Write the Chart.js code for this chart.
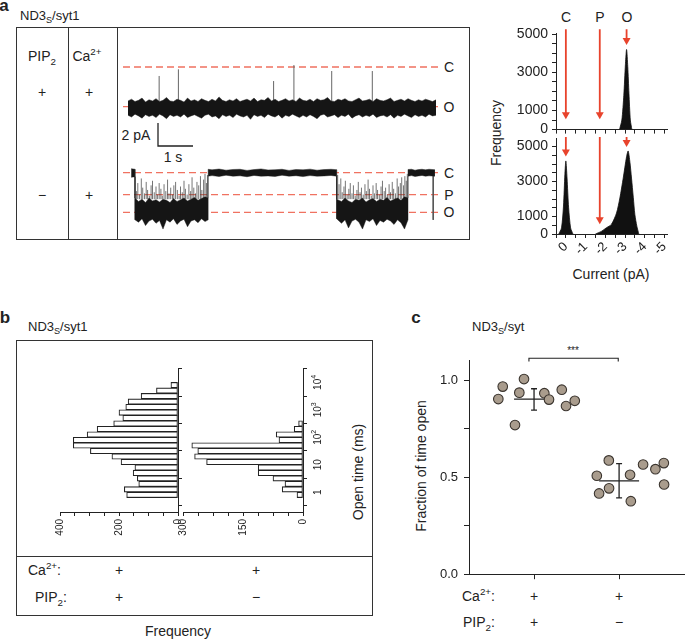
<!DOCTYPE html>
<html>
<head>
<meta charset="utf-8">
<script src="https://cdn.jsdelivr.net/npm/chart.js@4"></script>
<style>
  body { margin: 0; background: #fff; }
  #fig { position: relative; width: 685px; height: 639px; overflow: hidden;
         font-family: "Liberation Sans", Arial, sans-serif; color: #222; }
  canvas { position: absolute; }
  .t { position: absolute; white-space: nowrap; font-size: 14px; line-height: 1; transform: translate(-50%, -50%); }
  .l { transform: translate(0, -50%); }
  .rot { transform: translate(-50%, -50%) rotate(-90deg); }
  .pl { font-weight: bold; font-size: 17px; }
  .box { position: absolute; border: 1.3px solid #333; box-sizing: border-box; }
  .vl { position: absolute; width: 0; border-left: 1.3px solid #333; }
  .hl { position: absolute; height: 0; border-top: 1.3px solid #333; }
  sub, sup { font-size: 70%; line-height: 0; }
</style>
</head>
<body>
<div id="fig">
  <!-- panel a -->
  <div class="t pl" style="left:4px;top:5px">a</div>
  <div class="t l" style="left:20px;top:15px;font-size:13px">ND3<sub>S</sub>/syt1</div>
  <div class="box" style="left:16px;top:27px;width:454px;height:213px"></div>
  <div class="vl" style="left:68px;top:27px;height:213px"></div>
  <div class="vl" style="left:117px;top:27px;height:213px"></div>
  <div class="t" style="left:42px;top:56px">PIP<sub>2</sub></div>
  <div class="t" style="left:87px;top:56px">Ca<sup>2+</sup></div>
  <div class="t" style="left:42px;top:92px">+</div>
  <div class="t" style="left:89px;top:92px">+</div>
  <div class="t" style="left:42px;top:195px">−</div>
  <div class="t" style="left:89px;top:195px">+</div>
  <div class="t" style="left:449px;top:67px">C</div>
  <div class="t" style="left:449px;top:107px">O</div>
  <div class="t" style="left:449px;top:173px">C</div>
  <div class="t" style="left:449px;top:195px">P</div>
  <div class="t" style="left:449px;top:212px">O</div>
  <div class="t" style="left:136px;top:135px">2 pA</div>
  <div class="t" style="left:173px;top:157px">1 s</div>
  <div class="t" style="left:566px;top:17px">C</div>
  <div class="t" style="left:600px;top:17px">P</div>
  <div class="t" style="left:627px;top:17px">O</div>
  <div class="t rot" style="left:496px;top:133px">Frequency</div>
  <div class="t" style="left:611px;top:274px">Current (pA)</div>
  <canvas id="traces" width="317" height="173" style="left:123px;top:60px"></canvas>
  <canvas id="histTop" width="179" height="122" style="left:500px;top:20px"></canvas>
  <canvas id="histBottom" width="179" height="142" style="left:500px;top:126px"></canvas>

  <!-- panel b -->
  <div class="t pl" style="left:5px;top:317px">b</div>
  <div class="t l" style="left:28px;top:326px;font-size:13px">ND3<sub>S</sub>/syt1</div>
  <div class="box" style="left:16px;top:340px;width:357px;height:276px"></div>
  <div class="hl" style="left:16px;top:556px;width:357px"></div>
  <div class="t l" style="left:28px;top:570px">Ca<sup>2+</sup>:</div>
  <div class="t" style="left:119px;top:570px">+</div>
  <div class="t" style="left:256px;top:570px">+</div>
  <div class="t l" style="left:35px;top:597px">PIP<sub>2</sub>:</div>
  <div class="t" style="left:119px;top:597px">+</div>
  <div class="t" style="left:256px;top:597px">−</div>
  <div class="t" style="left:178px;top:631px">Frequency</div>
  <div class="t rot" style="left:358px;top:472px">Open time (ms)</div>
  <canvas id="dwellPlus" width="143" height="184" style="left:50px;top:358px"></canvas>
  <canvas id="dwellMinus" width="160" height="184" style="left:173px;top:358px"></canvas>

  <!-- panel c -->
  <div class="t pl" style="left:416px;top:317px">c</div>
  <div class="t l" style="left:472px;top:326px;font-size:13px">ND3<sub>S</sub>/syt</div>
  <div class="t" style="left:573px;top:351px;font-size:10px">***</div>
  <div class="t rot" style="left:421px;top:466px">Fraction of time open</div>
  <div class="t l" style="left:462px;top:596px">Ca<sup>2+</sup>:</div>
  <div class="t" style="left:534px;top:596px">+</div>
  <div class="t" style="left:619px;top:596px">+</div>
  <div class="t l" style="left:463px;top:622px">PIP<sub>2</sub>:</div>
  <div class="t" style="left:534px;top:622px">+</div>
  <div class="t" style="left:619px;top:622px">−</div>
  <canvas id="fraction" width="291" height="248" style="left:400px;top:340px"></canvas>
</div>

<script>
// ---------- panel a, traces (pA, relative to closed level) ----------
const traceStep = 0.1; // s between envelope samples of the top trace
const topLevels = [0, -3.45];          // C, O
const bottomLevels = [0, -1.9, -3.45]; // C, P, O

const topUpper = [
  -2.95,-2.8,-3.0,-2.9,-2.7,-3.05,-2.85,-2.95,-2.75,-3.0,
  -2.9,-2.65,-2.95,-3.0,-2.8,-2.9,-3.05,-2.7,-2.95,-2.85,
  -3.0,-2.75,-2.9,-3.0,-2.8,-2.95,-2.6,-2.9,-3.0,-2.85,
  -2.95,-2.75,-3.0,-2.9,-2.8,-2.95,-2.7,-3.0,-2.85,-2.9,
  -2.65,-2.95,-2.8,-3.0,-2.9,-2.75,-2.95,-2.85,-3.0,-2.7,
  -2.9,-2.95,-2.8,-3.0,-2.75,-2.9,-2.85,-2.65,-2.95,-3.0,
  -2.8,-2.9,-2.75,-2.95,-3.0,-2.85,-2.7,-2.95,-2.9,-2.8,
  -3.0,-2.75,-2.9,-2.95,-2.85,-2.7,-3.0,-2.9,-2.8,-2.95,
  -2.75,-2.9,-3.0,-2.85,-2.95,-2.8,-2.9,-3.0,-2.85];
const topLower = [
  -4.2,-4.35,-4.1,-4.25,-4.45,-4.15,-4.3,-4.2,-4.4,-4.1,
  -4.25,-4.5,-4.15,-4.3,-4.2,-4.35,-4.1,-4.4,-4.25,-4.15,
  -4.3,-4.45,-4.2,-4.1,-4.35,-4.25,-4.5,-4.15,-4.3,-4.2,
  -4.4,-4.1,-4.25,-4.35,-4.2,-4.55,-4.15,-4.3,-4.2,-4.4,
  -4.1,-4.25,-4.35,-4.15,-4.45,-4.2,-4.3,-4.1,-4.25,-4.4,
  -4.2,-4.35,-4.15,-4.3,-4.5,-4.2,-4.1,-4.35,-4.25,-4.15,
  -4.4,-4.2,-4.3,-4.1,-4.45,-4.25,-4.15,-4.35,-4.2,-4.3,
  -4.1,-4.4,-4.25,-4.2,-4.35,-4.15,-4.45,-4.2,-4.3,-4.1,
  -4.25,-4.4,-4.15,-4.3,-4.2,-4.35,-4.1,-4.25,-4.2];
const topSpikeTimes = [0.89, 1.44, 4.16, 4.74, 5.82, 6.98];
const topSpikeTips = [-0.78, -0.2, -1.22, 0.17, -0.35, -0.35];

const bottomTimes = [0.09, 0.2,
  0.2, 0.3, 0.4, 0.5, 0.6, 0.7, 0.8, 0.9, 1.0, 1.1, 1.2, 1.3, 1.4, 1.5, 1.6, 1.7, 1.8, 1.9, 2.0, 2.1, 2.2, 2.29,
  2.29, 2.4, 2.6, 2.8, 3.0, 3.2, 3.4, 3.6, 3.8, 4.0, 4.2, 4.4, 4.6, 4.8, 5.0, 5.2, 5.4, 5.6, 5.8, 5.96,
  5.96, 6.1, 6.2, 6.3, 6.4, 6.5, 6.6, 6.7, 6.8, 6.9, 7.0, 7.1, 7.2, 7.3, 7.4, 7.5, 7.6, 7.7, 7.8, 7.9, 8.0,
  8.0, 8.1, 8.2, 8.3, 8.4, 8.5, 8.6, 8.77];
const bottomUpper = [0.35, 0.3,
  -2.2, -2.5, -2.3, -2.6, -2.2, -2.45, -2.35, -2.55, -2.3, -2.4, -2.6, -2.25, -2.5, -2.35, -2.2, -2.45, -2.3, -2.15, -2.4, -2.25, -2.1, -2.2,
  0.3, 0.25, 0.32, 0.22, 0.28, 0.3, 0.2, 0.27, 0.33, 0.24, 0.26, 0.3, 0.2, 0.28, 0.25, 0.31, 0.22, 0.27, 0.3, 0.26,
  -2.3, -2.5, -2.2, -2.45, -2.6, -2.3, -2.4, -2.2, -2.55, -2.35, -2.25, -2.5, -2.3, -2.4, -2.15, -2.45, -2.3, -2.2, -2.4, -2.1, -2.2,
  0.28, 0.3, 0.22, 0.27, 0.3, 0.25, 0.3, 0.26];
const bottomLower = [-0.4, -0.35,
  -4.1, -4.3, -4.0, -4.6, -4.2, -4.05, -4.4, -4.15, -4.9, -4.1, -4.3, -4.0, -4.5, -4.2, -4.05, -4.7, -4.2, -4.1, -4.35, -4.0, -4.25, -4.1,
  -0.3, -0.25, -0.33, -0.22, -0.3, -0.27, -0.35, -0.24, -0.3, -0.28, -0.32, -0.22, -0.3, -0.26, -0.34, -0.25, -0.3, -0.28, -0.24, -0.3,
  -4.0, -4.4, -4.1, -4.8, -4.2, -4.05, -4.3, -4.9, -4.1, -4.25, -4.0, -4.6, -4.15, -4.3, -4.05, -4.2, -4.5, -4.1, -4.35, -4.9, -4.1,
  -0.3, -0.25, -0.33, -0.28, -0.24, -0.3, -0.27, -0.3];
const burstSpikeTimes = [
  0.24, 0.28, 0.33, 0.38, 0.42, 0.47, 0.52, 0.56, 0.61, 0.66, 0.7, 0.75, 0.8, 0.84, 0.89,
  0.94, 0.98, 1.03, 1.08, 1.13, 1.17, 1.22, 1.27, 1.31, 1.36, 1.41, 1.46, 1.5, 1.55, 1.6,
  1.64, 1.69, 1.74, 1.79, 1.83, 1.88, 1.93, 1.97, 2.02, 2.07, 2.11, 2.16, 2.2, 2.24, 2.27,
  5.99, 6.03, 6.08, 6.12, 6.17, 6.21, 6.26, 6.31, 6.35, 6.4, 6.44, 6.49, 6.54, 6.58, 6.63,
  6.67, 6.72, 6.77, 6.81, 6.86, 6.9, 6.95, 7.0, 7.04, 7.09, 7.13, 7.18, 7.23, 7.27, 7.32,
  7.36, 7.41, 7.46, 7.5, 7.55, 7.59, 7.64, 7.69, 7.73, 7.78, 7.82, 7.87, 7.91, 7.95, 7.98];
const burstSpikeTips = [
  -1.6, -0.9, -1.9, -0.5, -1.3, -1.8, -0.8, -1.5, -2.0, -1.1, -0.7, -1.7, -1.2, -1.9, -0.9,
  -1.4, -2.0, -1.0, -1.6, -0.6, -1.8, -1.3, -1.9, -1.1, -0.8, -1.5, -2.0, -1.2, -1.7, -0.7,
  -1.4, -1.9, -1.0, -1.6, -0.4, -1.3, -1.8, -0.8, -1.1, -0.3, -1.5, -0.6, -0.1, -0.9, -0.2,
  -0.2, -1.0, -0.5, -1.7, -1.2, -0.7, -1.9, -1.4, -0.9, -1.8, -1.1, -2.0, -1.5, -0.8, -1.7,
  -1.3, -1.9, -1.0, -1.6, -0.6, -1.4, -2.0, -1.1, -1.8, -0.9, -1.5, -1.9, -1.2, -0.7, -1.6,
  -1.3, -1.9, -1.0, -1.7, -0.8, -1.4, -1.8, -0.5, -1.2, -0.9, -0.4, -1.1, -0.3, -0.7, -0.1];
const lastOpening = [8.72, -4.1]; // time, tip

const scaleBarSec = 1, scaleBarPA = 2;

// ---------- panel a, amplitude histograms ----------
const ampTopCurrent = [-2.72, -2.84, -2.94, -3.02, -3.08, -3.14, -3.2, -3.27, -3.35];
const ampTopCount = [0, 500, 1800, 3400, 4200, 3300, 1900, 500, 0];
const ampClosedCurrent = [0.36, 0.22, 0.12, 0.05, 0.0, -0.06, -0.14, -0.24, -0.36];
const ampClosedCount = [0, 350, 1600, 3400, 4180, 3200, 1500, 350, 0];
const ampOpenCurrent = [-1.5, -1.8, -2.06, -2.31, -2.57, -2.74, -2.91, -3.08, -3.16, -3.25, -3.33, -3.42, -3.5, -3.6, -3.7];
const ampOpenCount = [0, 150, 360, 550, 1200, 2060, 3200, 4430, 4750, 4100, 3200, 2100, 1110, 450, 0];
const arrowCurrents = [0, -1.72, -3.08]; // C, P, O
const arrowTopTips = [784, 784, 4676];
const arrowBottomTips = [4703, 827, 5245];
const freqTicks = [0, 500, 1000, 1500, 2000, 2500, 3000, 3500, 4000, 4500, 5000];
const freqLabels = [0, 1000, 3000, 5000];

// ---------- panel b, open-time histograms (log10 ms bins) ----------
const plusBins = [-0.1, 0.1, 0.3, 0.5, 0.7, 0.9, 1.1, 1.3, 1.5, 1.7, 1.9, 2.1, 2.3, 2.5, 2.7, 2.9, 3.1, 3.3, 3.5, 3.7, 3.9];
const plusCounts = [174, 182, 133, 138, 152, 146, 193, 224, 297, 355, 355, 308, 274, 218, 187, 200, 177, 169, 125, 73, 24];
const minusBins = [-0.1, 0.1, 0.3, 0.5, 0.7, 0.9, 1.1, 1.3, 1.5, 1.7, 1.9, 2.1, 2.3, 2.5];
const minusCounts = [15, 52, 45, 75, 112, 112, 241, 271, 263, 278, 60, 67, 22, 11];
const openTimeTicks = [0, 1, 2, 3, 4];

// ---------- panel c, fraction of time open ----------
const groupX = [1, 2];
const plusX = [0.58, 0.632, 0.776, 0.827, 0.882, 1.121, 1.176, 1.326, 1.376, 1.479];
const plusY = [0.902, 0.966, 0.768, 0.935, 1.005, 0.932, 0.899, 0.950, 0.866, 0.893];
const minusX = [1.738, 1.765, 1.879, 1.882, 2.129, 2.138, 2.282, 2.427, 2.526, 2.529];
const minusY = [0.507, 0.416, 0.586, 0.442, 0.512, 0.376, 0.565, 0.541, 0.572, 0.462];
const means = [0.902, 0.481];
const errLow = [0.845, 0.393];
const errHigh = [0.955, 0.569];
const bracketY = 1.112;

Chart.defaults.font.family = '"Liberation Sans", Arial, sans-serif';
Chart.defaults.color = '#222';
Chart.defaults.animation = false;
Chart.defaults.responsive = false;
Chart.defaults.plugins.legend.display = false;
Chart.defaults.plugins.tooltip.enabled = false;
Chart.defaults.elements.point.radius = 0;
Chart.defaults.elements.line.tension = 0;

const xy = (xs, ys) => xs.map((x, i) => ({ x, y: ys[i] }));
const fixW = (w) => (s) => { s.width = w; };
const fixH = (h) => (s) => { s.height = h; };
const axisLook = (extra) => Object.assign({
  border: { color: '#222', width: 1 },
  grid: { drawOnChartArea: false, tickColor: '#222', tickLength: 4 }
}, extra);

// ---- traces ----
const traceXMin = -0.143, traceXMax = 8.914;
const topTimes = topUpper.map((_, i) => +(i * traceStep).toFixed(2));
function spikes(ts, tips, base) {
  const d = [];
  ts.forEach((t, i) => d.push({ x: t, y: base }, { x: t, y: tips[i] }, { x: t, y: null }));
  return d;
}
function level(v, axis) {
  return { data: [{ x: traceXMin, y: v }, { x: traceXMax, y: v }], yAxisID: axis,
    borderColor: '#f07260', borderWidth: 1.3, borderDash: [7, 4], order: 5 };
}
const band = (data, axis, fill) => ({ data, yAxisID: axis, borderColor: 'rgba(40,40,40,0.8)', borderWidth: 0.6,
  backgroundColor: '#151515', fill, order: 1 });
const sbX = 0.857, sbY = -4.87;

new Chart(document.getElementById('traces'), {
  type: 'line',
  data: { datasets: [
    ...topLevels.map(v => level(v, 'y')),
    ...bottomLevels.map(v => level(v, 'y2')),
    band(xy(topTimes, topUpper), 'y', '+1'),
    band(xy(topTimes, topLower), 'y', false),
    band(xy(bottomTimes, bottomUpper), 'y2', '+1'),
    band(xy(bottomTimes, bottomLower), 'y2', false),
    { data: spikes(topSpikeTimes, topSpikeTips, -3.0), yAxisID: 'y', borderColor: '#666', borderWidth: 1, order: 2 },
    { data: spikes(burstSpikeTimes, burstSpikeTips, -2.3), yAxisID: 'y2', borderColor: '#3a3a3a', borderWidth: 0.7, order: 2 },
    { data: spikes([lastOpening[0]], [lastOpening[1]], 0), yAxisID: 'y2', borderColor: '#555', borderWidth: 1, order: 2 },
    { data: [{ x: sbX, y: sbY }, { x: sbX, y: sbY - scaleBarPA }, { x: sbX + scaleBarSec, y: sbY - scaleBarPA }],
      yAxisID: 'y', borderColor: '#222', borderWidth: 1.3, order: 1 }
  ]},
  options: {
    layout: { padding: 0 },
    scales: {
      x: { type: 'linear', display: false, min: traceXMin, max: traceXMax },
      y: { display: false, min: -14.435, max: 0.609 },
      y2: { display: false, min: -5.243, max: 9.8 }
    }
  }
});

// ---- amplitude histograms ----
function arrows(tips, start) {
  return arrowCurrents.map((c, i) => ({
    data: [{ x: c, y: start }, { x: c, y: tips[i] }],
    borderColor: '#e8432c', borderWidth: 1.8, clip: false,
    pointRadius: [0, 4.6], pointStyle: 'triangle', pointRotation: 180,
    pointBackgroundColor: '#e8432c', pointBorderWidth: 0
  }));
}
const peak = (xs, ys) => ({ data: xy(xs, ys), borderColor: '#111', borderWidth: 0.8,
  backgroundColor: '#111', fill: 'origin', tension: 0.25 });
function ampOptions(yMax, padTop, xHeight, showLabels) {
  return {
    layout: { padding: { top: padTop, right: 12 } },
    scales: {
      x: axisLook({ type: 'linear', reverse: true, min: -5.13, max: 0.5, afterFit: fixH(xHeight),
        ticks: { display: showLabels, stepSize: 0.5, includeBounds: false, autoSkip: false,
          minRotation: 45, maxRotation: 45, padding: 1, font: { size: 13 },
          callback: v => Number.isInteger(v) ? String(v) : '' } }),
      y: axisLook({ min: 0, max: yMax, afterFit: fixW(56),
        afterBuildTicks: s => { s.ticks = freqTicks.map(v => ({ value: v })); },
        ticks: { autoSkip: false, padding: 4, font: { size: 14 },
          callback: v => freqLabels.includes(v) ? String(v) : '' } })
    }
  };
}
new Chart(document.getElementById('histTop'), {
  type: 'line',
  data: { datasets: [peak(ampTopCurrent, ampTopCount), ...arrows(arrowTopTips, 5260)] },
  options: ampOptions(5065, 13, 12, false)
});
new Chart(document.getElementById('histBottom'), {
  type: 'line',
  data: { datasets: [peak(ampClosedCurrent, ampClosedCount), peak(ampOpenCurrent, ampOpenCount),
    ...arrows(arrowBottomTips, 5545)] },
  options: ampOptions(5470, 10, 34, true)
});

// ---- open-time histograms ----
const logLabels = {
  id: 'logLabels',
  afterDraw(chart) {
    const s = chart.scales.y, ctx = chart.ctx;
    ctx.save();
    ctx.fillStyle = '#222';
    ctx.textBaseline = 'middle';
    openTimeTicks.forEach(e => {
      const y = s.getPixelForValue(e);
      const base = e === 0 ? '1' : '10', sup = e > 1 ? String(e) : '';
      ctx.font = '10px "Liberation Sans", Arial, sans-serif';
      const wb = ctx.measureText(base).width;
      ctx.font = '7px "Liberation Sans", Arial, sans-serif';
      const ws = sup ? ctx.measureText(sup).width : 0;
      ctx.translate(s.left + 15, y);
      ctx.rotate(-Math.PI / 2);
      ctx.font = '10px "Liberation Sans", Arial, sans-serif';
      ctx.fillText(base, -(wb + ws) / 2, 0);
      if (sup) {
        ctx.font = '7px "Liberation Sans", Arial, sans-serif';
        ctx.fillText(sup, -(wb + ws) / 2 + wb, -4);
      }
      ctx.setTransform(1, 0, 0, 1, 0, 0);
    });
    ctx.restore();
  }
};
function dwellChart(id, bins, counts, xMax, step, labelled, yWidth, plugins) {
  return new Chart(document.getElementById(id), {
    type: 'bar',
    data: { datasets: [{ data: counts.map((c, i) => ({ x: c, y: bins[i] })),
      backgroundColor: '#fff', borderColor: '#222', borderWidth: 1.1, borderSkipped: false,
      barPercentage: 1, categoryPercentage: 1 }] },
    options: {
      indexAxis: 'y',
      layout: { padding: { top: 10, left: 10 } },
      scales: {
        x: axisLook({ type: 'linear', reverse: true, min: 0, max: xMax, afterFit: fixH(30),
          ticks: { stepSize: step, includeBounds: false, autoSkip: false, minRotation: 90, maxRotation: 90,
            padding: 3, font: { size: 10 }, callback: v => labelled.includes(v) ? String(v) : '' } }),
        y: axisLook({ type: 'linear', position: 'right', min: -0.2, max: 4, afterFit: fixW(yWidth),
          ticks: { display: false, stepSize: 1, includeBounds: false } })
      }
    },
    plugins
  });
}
dwellChart('dwellPlus', plusBins, plusCounts, 400, 50, [0, 200, 400], 6, []);
dwellChart('dwellMinus', minusBins, minusCounts, 300, 37.5, [0, 150, 300], 30, [logLabels]);

// ---- fraction of time open ----
const meanHalf = 0.235, cap = 0.035;
const dots = (xs, ys) => ({ data: xy(xs, ys), pointRadius: 4.8, backgroundColor: '#a99c8d',
  borderColor: '#3b352f', borderWidth: 1.1, order: 1 });
const meanLines = groupX.map((g, i) => ({ showLine: true, borderColor: '#222', borderWidth: 1.3, order: 2,
  data: [{ x: g - meanHalf, y: means[i] }, { x: g + meanHalf, y: means[i] }, { x: g, y: null },
    { x: g - cap, y: errHigh[i] }, { x: g + cap, y: errHigh[i] }, { x: g, y: null },
    { x: g, y: errHigh[i] }, { x: g, y: errLow[i] }, { x: g, y: null },
    { x: g - cap, y: errLow[i] }, { x: g + cap, y: errLow[i] }] }));

new Chart(document.getElementById('fraction'), {
  type: 'scatter',
  data: { datasets: [
    dots(plusX, plusY), dots(minusX, minusY), ...meanLines,
    { showLine: true, borderColor: '#222', borderWidth: 1.1, clip: false,
      data: [{ x: 0.94, y: bracketY - 0.017 }, { x: 0.94, y: bracketY }, { x: 1.99, y: bracketY }, { x: 1.99, y: bracketY - 0.017 }] }
  ]},
  options: {
    layout: { padding: { top: 20 } },
    scales: {
      x: axisLook({ type: 'linear', min: 0.2353, max: 2.776, afterFit: fixH(7),
        grid: { drawOnChartArea: false, tickColor: '#222', tickLength: 5 },
        ticks: { display: false, stepSize: 1, includeBounds: false } }),
      y: axisLook({ min: 0, max: 1.103, afterFit: fixW(69),
        grid: { drawOnChartArea: false, tickColor: '#222', tickLength: 5 },
        ticks: { stepSize: 0.25, includeBounds: false, autoSkip: false, padding: 6, font: { size: 13 },
          callback: v => v % 0.5 === 0 ? v.toFixed(1) : '' } })
    }
  }
});
</script>
</body>
</html>
